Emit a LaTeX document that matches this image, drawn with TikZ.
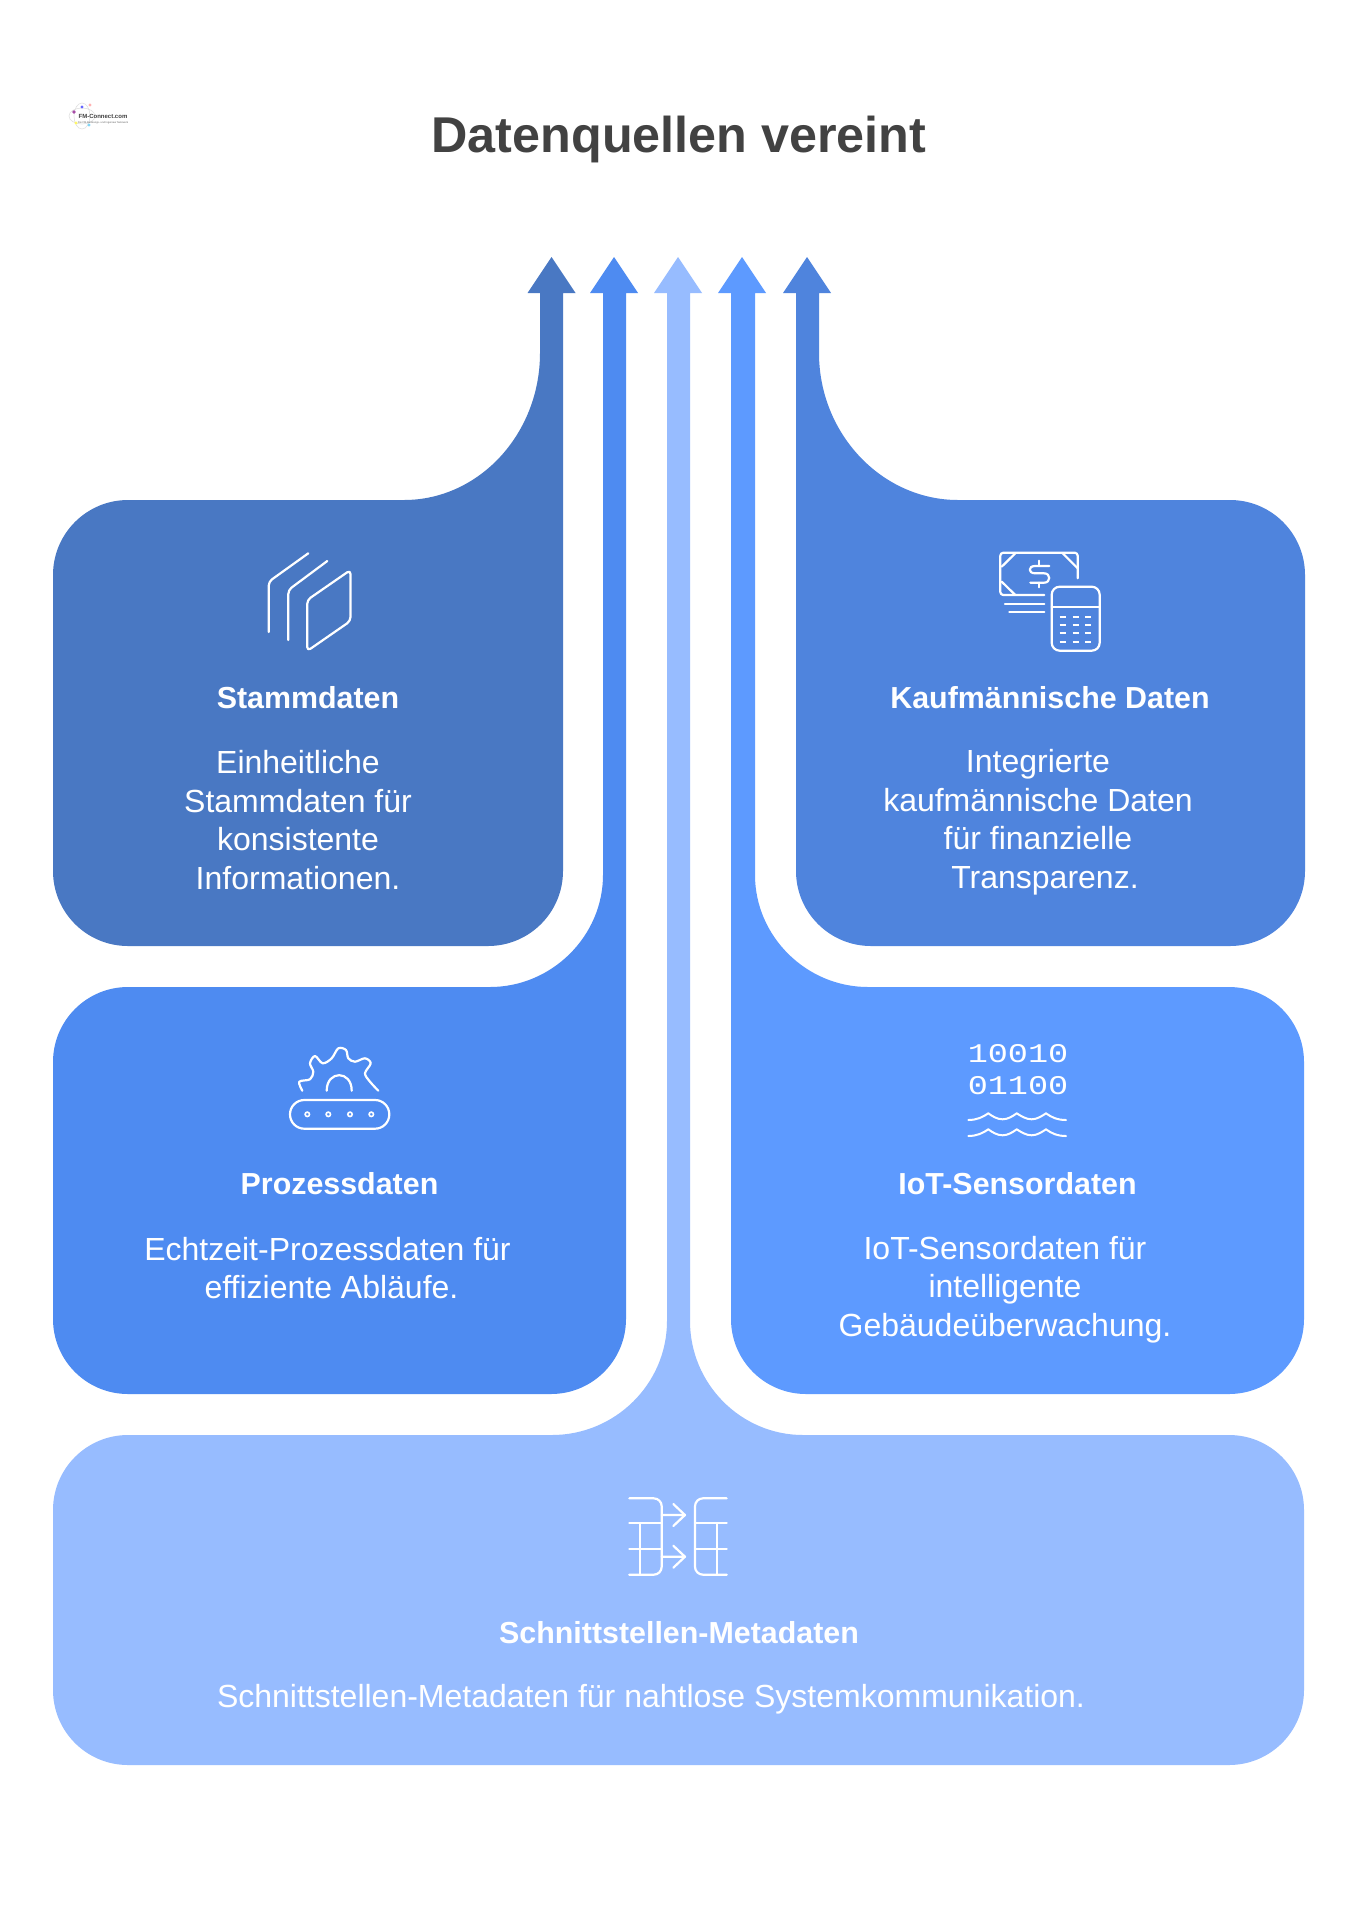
\documentclass[tikz,border=0pt]{standalone}
\usepackage{fontspec}
\setmainfont{Liberation Sans}
\newfontfamily\monof{Liberation Mono}
\definecolor{cA}{RGB}{73,120,195}
\definecolor{cB}{RGB}{78,139,241}
\definecolor{cC}{RGB}{151,188,255}
\definecolor{cD}{RGB}{93,154,255}
\definecolor{cE}{RGB}{79,132,221}
\definecolor{titlegray}{RGB}{66,66,66}
\tikzset{
  headtext/.style={text=white,font=\bfseries\fontsize{30.4}{36}\selectfont,inner sep=0pt},
  bodytext/.style={text=white,font=\fontsize{32}{38.5}\selectfont,align=center,inner sep=0pt},
  icon/.style={draw=white,line width=2.2pt,line cap=round,line join=round,fill=none},
  bintext/.style={inner sep=0pt,text=white,font=\monof\fontsize{27}{30}\selectfont,xscale=1.24,transform shape},
}
\begin{document}
\begin{tikzpicture}[x=1pt,y=-1pt]
\useasboundingbox (0,0) rectangle (1358,1920);
\fill[white] (0,0) rectangle (1358,1920);
% logo
\draw[black!12,line width=.6pt] (82,116) ellipse [x radius=13,y radius=8];
\draw[black!12,line width=.6pt] (82,116) ellipse [x radius=8,y radius=13];
\fill[violet!70] (74,112) circle (1.8pt);
\fill[blue!60] (82,107) circle (1.6pt);
\fill[red!30] (90,105) circle (1.6pt);
\fill[yellow!60] (76,123) circle (1.6pt);
\fill[cyan!50] (89,125) circle (1.6pt);
\node[inner sep=0pt,text=black!75,font=\bfseries\fontsize{6}{7}\selectfont] (logo) at (103,116) {FM-Connect.com};
\node[inner sep=0pt,text=black!60,font=\fontsize{2.6}{3}\selectfont] (logosub) at (103,123) {Die FM-Beratungs- und Ingenieur Netzwerk};
% title
\node[inner sep=0pt,text=titlegray,font=\bfseries\fontsize{50.3}{60}\selectfont] (title) at (679,139.5) {Datenquellen vereint};
% card 1
\fill[cA] (53,575) .. controls (53,533.6) and (86.6,500) .. (128,500) -- (404,500) .. controls (479,500) and (540,434) .. (540,353) -- (540,293) -- (527.5,293) -- (551.5,257) -- (575.5,293) -- (563,293) -- (563,871) .. controls (563,912.4) and (529.4,946) .. (488,946) -- (128,946) .. controls (86.6,946) and (53,912.4) .. (53,871) -- cycle;
% card 2
\fill[cB] (53,1062) .. controls (53,1020.6) and (86.6,987) .. (128,987) -- (490,987) .. controls (552,987) and (603,936) .. (603,875) -- (603,293) -- (590,293) -- (614,257) -- (638,293) -- (626,293) -- (626,1319) .. controls (626,1360.4) and (592.4,1394) .. (551,1394) -- (128,1394) .. controls (86.6,1394) and (53,1360.4) .. (53,1319) -- cycle;
% card 3
\fill[cC] (53,1510) .. controls (53,1468.6) and (86.6,1435) .. (128,1435) -- (552,1435) .. controls (615,1435) and (667,1384) .. (667,1321) -- (667,293) -- (654,293) -- (678,257) -- (702,293) -- (690,293) -- (690,1321) .. controls (690,1384) and (741,1435) .. (803,1435) -- (1229,1435) .. controls (1270.4,1435) and (1304,1468.6) .. (1304,1510) -- (1304,1690) .. controls (1304,1731.4) and (1270.4,1765) .. (1229,1765) -- (128,1765) .. controls (86.6,1765) and (53,1731.4) .. (53,1690) -- cycle;
% card 4
\fill[cD] (1304,1062) .. controls (1304,1020.6) and (1270.4,987) .. (1229,987) -- (868,987) .. controls (806,987) and (755,936) .. (755,875) -- (755,293) -- (766,293) -- (742,257) -- (718,293) -- (731,293) -- (731,1319) .. controls (731,1360.4) and (764.6,1394) .. (806,1394) -- (1229,1394) .. controls (1270.4,1394) and (1304,1360.4) .. (1304,1319) -- cycle;
% card 5
\fill[cE] (1305,575) .. controls (1305,533.6) and (1271.4,500) .. (1230,500) -- (958,500) .. controls (882,500) and (819,434) .. (819,353) -- (819,293) -- (831,293) -- (807,257) -- (783,293) -- (796,293) -- (796,871) .. controls (796,912.4) and (829.6,946) .. (871,946) -- (1230,946) .. controls (1271.4,946) and (1305,912.4) .. (1305,871) -- cycle;
% texts
\node[headtext] (h1) at (308,698) {Stammdaten};
\node[bodytext] (b1) at (298,820) {Einheitliche\\Stammdaten für\\konsistente\\Informationen.};
\node[headtext] (h5) at (1050,698) {Kaufmännische Daten};
\node[bodytext] (b5) at (1038,822) {Integrierte\\kaufmännische Daten\\für finanzielle\\\hspace*{14pt}Transparenz.};
\node[headtext] (h2) at (339.5,1184) {Prozessdaten};
\node[bodytext] (b2) at (327.5,1268) {Echtzeit-Prozessdaten für\\\hspace*{8pt}effiziente Abläufe.};
\node[headtext] (h4) at (1017.5,1184) {IoT-Sensordaten};
\node[bodytext] (b4) at (1005,1289.5) {IoT-Sensordaten für\\intelligente\\Gebäudeüberwachung.};
\node[headtext] (h3) at (679,1633) {Schnittstellen-Metadaten};
\node[bodytext] (b3) at (651,1699.5) {Schnittstellen-Metadaten für nahtlose Systemkommunikation.};
% icon 1
\draw[icon,rounded corners=4pt] (308.3,553.3) -- (268.7,581.7) -- (268.7,632);
\draw[icon,rounded corners=4pt] (327.3,561) -- (288.3,590) -- (288.3,640);
\draw[icon,rounded corners=4pt] (307.2,600) -- (350.5,570) -- (350.5,621) -- (307.2,651) -- cycle;
% icon 2
\draw[icon,rounded corners=3pt] (1077.7,578.3) -- (1077.7,552.7) -- (1000.3,552.7) -- (1000.3,595) -- (1044.3,595);
\draw[icon] (1015.3,553.3) -- (1001.7,566.7) (1062.7,553.3) -- (1077.7,568.3) (1001.7,581.7) -- (1015.3,595);
\draw[icon] (1039.3,560.7) -- (1039.3,565) (1039.3,582.7) -- (1039.3,587.3);
\draw[icon] (1049.3,566) -- (1035,566) .. controls (1028,566) and (1028,573.3) .. (1035,573.3) -- (1044,573.3) .. controls (1051,573.3) and (1051,582.7) .. (1044,582.7) -- (1030.3,582.7);
\draw[icon] (1005,604) -- (1044.3,604) (1009.3,611.7) -- (1044.3,611.7);
\draw[icon,rounded corners=8pt] (1051.7,586.7) rectangle (1099.7,650.7);
\draw[icon] (1051.7,607.3) -- (1099.7,607.3);
\foreach \ky in {616.7,625,633.3,641.7}{
  \foreach \kx in {1062.7,1075.7,1088.3}{
    \draw[draw=white,line width=1.8pt] (\kx-3,\ky) -- (\kx+3,\ky);
  }
}
% icon 3
\draw[icon,rounded corners=14.3pt] (290,1100) rectangle (389.3,1128.7);
\foreach \dx in {307.3,328.3,350,371.3}{\draw[draw=white,line width=1.6pt] (\dx,1114.3) circle (2.2pt);}
\draw[icon] (326.7,1090.7) .. controls (326.7,1070) and (351.7,1070) .. (351.7,1090.7);
\draw[icon] plot[smooth,tension=.55] coordinates {(302.3,1090.7) (299.3,1081.7) (310,1079.3) (313.3,1071.7) (310,1063.3) (315,1056) (322.7,1063.3) (331.7,1058.3) (338.3,1048.3) (346,1050) (348.3,1058.3) (355,1061.7) (365,1058.3) (370.7,1063.3) (365,1073.3) (370,1081.7) (378.3,1090.7)};
% icon 4
\node[bintext] (bin1) at (1018,1054) {10010};
\node[bintext] (bin2) at (1018,1086) {01100};
\foreach \wy in {0,16}{
  \begin{scope}[yshift=-\wy pt]
  \draw[icon,line width=2pt] (968.3,1120) .. controls (977,1120) and (983,1117) .. (988.3,1113.3) .. controls (992,1116) and (997,1119.3) .. (1002.7,1119.3) .. controls (1008,1119.3) and (1013,1116) .. (1016.7,1113.3) .. controls (1021,1116) and (1026,1119.3) .. (1031.7,1119.3) .. controls (1037,1119.3) and (1042,1116) .. (1046,1113.3) .. controls (1051,1117) and (1057,1120) .. (1066,1120);
  \end{scope}
}
% icon 5
\draw[icon,rounded corners=8pt] (629.3,1498.3) -- (661.7,1498.3) -- (661.7,1574.7) -- (629.3,1574.7);
\draw[icon] (629.3,1523.3) -- (661.7,1523.3) (629.3,1549.3) -- (661.7,1549.3) (640,1523.3) -- (640,1574.7);
\draw[icon] (661.7,1515) -- (685,1515) (673.3,1504) -- (685,1515) -- (673.3,1526);
\draw[icon] (661.7,1556.7) -- (685,1556.7) (673.3,1545.7) -- (685,1556.7) -- (673.3,1567.7);
\draw[icon,rounded corners=8pt] (726.7,1498.3) -- (695,1498.3) -- (695,1574.7) -- (726.7,1574.7);
\draw[icon] (695,1523.3) -- (726.7,1523.3) (695,1549.3) -- (726.7,1549.3) (717.3,1523.3) -- (717.3,1574.7);
\end{tikzpicture}
\end{document}
